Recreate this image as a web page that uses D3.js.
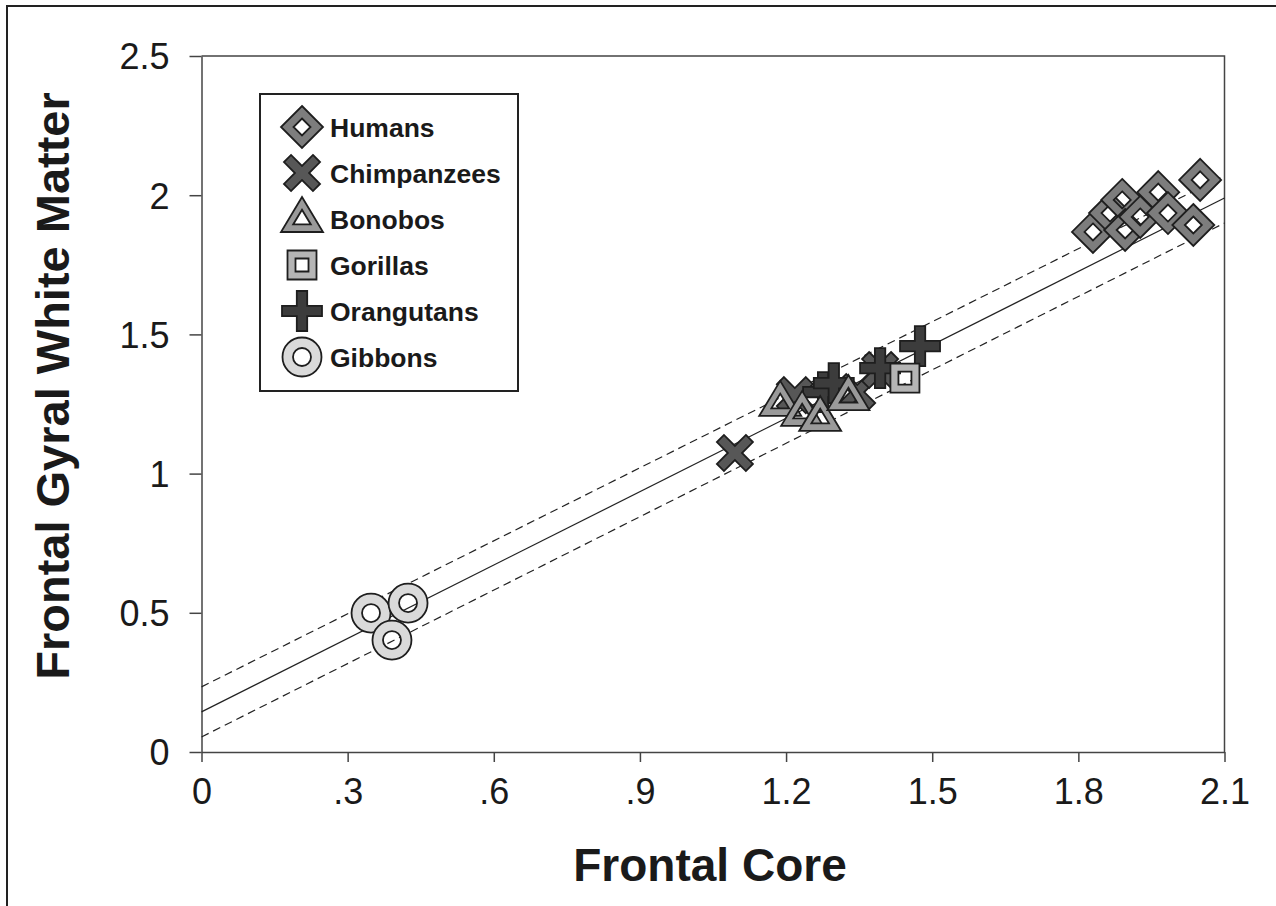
<!DOCTYPE html>
<html><head><meta charset="utf-8">
<script src="https://cdn.jsdelivr.net/npm/d3@7"></script>
<style>html,body{margin:0;padding:0;background:#fff}svg{display:block}</style>
</head><body>
<script>
// ---- data ----
const xTicks = [0, 0.3, 0.6, 0.9, 1.2, 1.5, 1.8, 2.1];
const xTickLabels = ["0", ".3", ".6", ".9", "1.2", "1.5", "1.8", "2.1"];
const yTicks = [0, 0.5, 1, 1.5, 2, 2.5];
const yTickLabels = ["0", "0.5", "1", "1.5", "2", "2.5"];

const humansX = [1.830, 1.865, 1.890, 1.896, 1.927, 1.964, 1.984, 2.036, 2.050];
const humansY = [1.868, 1.936, 1.983, 1.875, 1.922, 2.011, 1.936, 1.893, 2.055];
const chimpsX = [1.095, 1.218, 1.346, 1.393];
const chimpsY = [1.074, 1.282, 1.293, 1.372];
const orangsX = [1.276, 1.298, 1.393, 1.475];
const orangsY = [1.293, 1.325, 1.379, 1.458];
const bonobosX = [1.188, 1.233, 1.270, 1.328];
const bonobosY = [1.254, 1.218, 1.200, 1.275];
const gorillasX = [1.444];
const gorillasY = [1.343];
const gibbonsX = [0.348, 0.424, 0.391];
const gibbonsY = [0.499, 0.535, 0.402];

const lineX = [0, 2.1];
const fitY = [0.144, 1.99];
const upperY = [0.234, 2.07];
const lowerY = [0.054, 1.90];

const legendNames = ["Humans", "Chimpanzees", "Bonobos", "Gorillas", "Orangutans", "Gibbons"];

// ---- drawing ----
const W = 1276, H = 906;
const svg = d3.select("body").append("svg").attr("width", W).attr("height", H);
const x = d3.scaleLinear().domain([0, 2.1]).range([201.5, 1224.5]);
const y = d3.scaleLinear().domain([0, 2.5]).range([752, 56]);
const FONT = "Liberation Sans, Arial, Helvetica, sans-serif";

// outer frame
svg.append("path").attr("d", `M7,${H} L7,6 L${W},6`).attr("fill", "none").attr("stroke", "#222").attr("stroke-width", 2);

// plot box top/right
svg.append("path").attr("d", `M${x(0)},${y(2.5)} L${x(2.1)},${y(2.5)} L${x(2.1)},${y(0)}`)
  .attr("fill", "none").attr("stroke", "#444").attr("stroke-width", 1.5);

// axes
const xAxis = d3.axisBottom(x).tickValues(xTicks).tickFormat((d, i) => xTickLabels[i]).tickSize(10).tickSizeOuter(0);
const yAxis = d3.axisLeft(y).tickValues(yTicks).tickFormat((d, i) => yTickLabels[i]).tickSize(12).tickSizeOuter(0);
const gx = svg.append("g").attr("transform", `translate(0,${y(0)})`).call(xAxis);
const gy = svg.append("g").attr("transform", `translate(${x(0)},0)`).call(yAxis);
[gx, gy].forEach(g => {
  g.select(".domain").attr("stroke", "#444").attr("stroke-width", 1.5);
  g.selectAll(".tick line").attr("stroke", "#444").attr("stroke-width", 1.5);
  g.selectAll(".tick text").attr("fill", "#1a1a1a").attr("font-family", FONT).attr("font-size", 36);
});
gx.selectAll(".tick text").attr("dy", 0).attr("y", 52);
gy.selectAll(".tick text").attr("x", -32).attr("dy", "0.36em");

// axis titles
svg.append("text").attr("x", 710).attr("y", 881).attr("text-anchor", "middle")
  .attr("font-family", FONT).attr("font-weight", "bold").attr("font-size", 46).attr("fill", "#1a1a1a")
  .text("Frontal Core");
svg.append("text").attr("transform", "translate(69,386) rotate(-90)").attr("text-anchor", "middle")
  .attr("font-family", FONT).attr("font-weight", "bold").attr("font-size", 47).attr("fill", "#1a1a1a")
  .text("Frontal Gyral White Matter");

// regression lines
const line = d3.line().x((d, i) => x(lineX[i])).y(d => y(d));
svg.append("path").attr("d", line(fitY)).attr("fill", "none").attr("stroke", "#222").attr("stroke-width", 1.2);
svg.append("path").attr("d", line(upperY)).attr("fill", "none").attr("stroke", "#222").attr("stroke-width", 1.2).attr("stroke-dasharray", "8,5");
svg.append("path").attr("d", line(lowerY)).attr("fill", "none").attr("stroke", "#222").attr("stroke-width", 1.2).attr("stroke-dasharray", "8,5");

// marker shapes (paths relative to center)
function poly(pts) { return "M" + pts.map(p => p[0].toFixed(2) + "," + p[1].toFixed(2)).join("L") + "Z"; }
function diamond(R) { return poly([[0, -R], [R, 0], [0, R], [-R, 0]]); }
function square(R) { return poly([[-R, -R], [R, -R], [R, R], [-R, R]]); }
function tri(s) { return poly([[0, -22 * s], [21 * s, 13 * s], [-21 * s, 13 * s]]); }
function circ(r) { return `M${r},0A${r},${r} 0 1,1 ${-r},0A${r},${r} 0 1,1 ${r},0Z`; }
function cross(L, t, rot) {
  const pts = [[-t, -L], [t, -L], [t, -t], [L, -t], [L, t], [t, t], [t, L], [-t, L], [-t, t], [-L, t], [-L, -t], [-t, -t]];
  const c = Math.cos(rot), s = Math.sin(rot);
  return poly(pts.map(p => [p[0] * c - p[1] * s, p[0] * s + p[1] * c]));
}
const markers = {
  Humans: { d: diamond(21) + diamond(8.5), fill: "#7d7d7d" },
  Chimpanzees: { d: cross(20.5, 5, Math.PI / 4), fill: "#575757" },
  Bonobos: { d: tri(1) + tri(0.42), fill: "#9a9a9a" },
  Gorillas: { d: square(14.5) + square(6.5), fill: "#b5b5b5" },
  Orangutans: { d: cross(20, 5.2, 0), fill: "#3c3c3c" },
  Gibbons: { d: circ(19.5) + circ(9), fill: "#dadada" }
};

function drawSeries(name, xs, ys) {
  const m = markers[name];
  svg.append("g").selectAll("path").data(xs).join("path")
    .attr("transform", (d, i) => `translate(${x(d)},${y(ys[i])})`)
    .attr("d", m.d).attr("fill", m.fill).attr("fill-rule", "evenodd")
    .attr("stroke", "#1e1e1e").attr("stroke-width", 1.8);
}
drawSeries("Chimpanzees", chimpsX, chimpsY);
drawSeries("Orangutans", orangsX, orangsY);
drawSeries("Bonobos", bonobosX, bonobosY);
drawSeries("Gorillas", gorillasX, gorillasY);
drawSeries("Humans", humansX, humansY);
drawSeries("Gibbons", gibbonsX, gibbonsY);

// legend
const lg = svg.append("g");
lg.append("rect").attr("x", 260).attr("y", 94).attr("width", 258).attr("height", 297)
  .attr("fill", "#fff").attr("stroke", "#222").attr("stroke-width", 2);
legendNames.forEach((n, i) => {
  const cy = 127 + i * 46;
  lg.append("path").attr("transform", `translate(302,${cy})`).attr("d", markers[n].d)
    .attr("fill", markers[n].fill).attr("fill-rule", "evenodd").attr("stroke", "#1e1e1e").attr("stroke-width", 1.8);
  lg.append("text").attr("x", 330).attr("y", cy).attr("dy", "0.36em")
    .attr("font-family", FONT).attr("font-weight", "bold").attr("font-size", 26.5).attr("fill", "#1a1a1a")
    .text(n);
});
</script>
</body></html>
